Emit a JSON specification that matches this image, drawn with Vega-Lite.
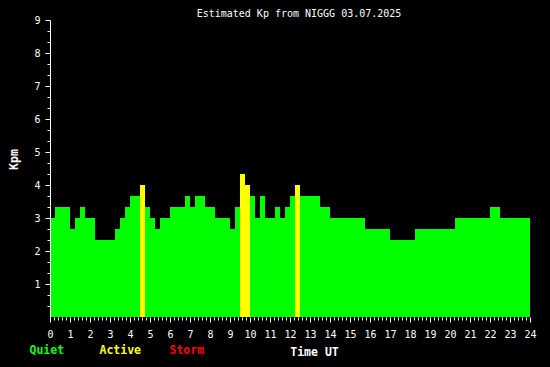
{
  "$schema": "https://vega.github.io/schema/vega-lite/v6.json",
  "width": 480,
  "height": 297,
  "autosize": "none",
  "padding": {"left": 50, "top": 20, "right": 20, "bottom": 50},
  "background": "black",
  "title": {"text": "Estimated Kp from NIGGG 03.07.2025", "color": "white", "font": "DejaVu Sans Mono", "fontSize": 10, "fontWeight": "normal", "anchor": "middle", "baseline": "alphabetic", "offset": 3, "dx": 9, "dy": 15},
  "config": {"view": {"stroke": null}},
  "data": {"values": [
    {"start": 0, "end": 0.25, "kp": 3},
    {"start": 0.25, "end": 1.0, "kp": 3.333},
    {"start": 1.0, "end": 1.25, "kp": 2.667},
    {"start": 1.25, "end": 1.5, "kp": 3},
    {"start": 1.5, "end": 1.75, "kp": 3.333},
    {"start": 1.75, "end": 2.25, "kp": 3},
    {"start": 2.25, "end": 3.25, "kp": 2.333},
    {"start": 3.25, "end": 3.5, "kp": 2.667},
    {"start": 3.5, "end": 3.75, "kp": 3},
    {"start": 3.75, "end": 4.0, "kp": 3.333},
    {"start": 4.0, "end": 4.5, "kp": 3.667},
    {"start": 4.5, "end": 4.75, "kp": 4},
    {"start": 4.75, "end": 5.0, "kp": 3.333},
    {"start": 5.0, "end": 5.25, "kp": 3},
    {"start": 5.25, "end": 5.5, "kp": 2.667},
    {"start": 5.5, "end": 6.0, "kp": 3},
    {"start": 6.0, "end": 6.75, "kp": 3.333},
    {"start": 6.75, "end": 7.0, "kp": 3.667},
    {"start": 7.0, "end": 7.25, "kp": 3.333},
    {"start": 7.25, "end": 7.75, "kp": 3.667},
    {"start": 7.75, "end": 8.25, "kp": 3.333},
    {"start": 8.25, "end": 9.0, "kp": 3},
    {"start": 9.0, "end": 9.25, "kp": 2.667},
    {"start": 9.25, "end": 9.5, "kp": 3.333},
    {"start": 9.5, "end": 9.75, "kp": 4.333},
    {"start": 9.75, "end": 10.0, "kp": 4},
    {"start": 10.0, "end": 10.25, "kp": 3.667},
    {"start": 10.25, "end": 10.5, "kp": 3},
    {"start": 10.5, "end": 10.75, "kp": 3.667},
    {"start": 10.75, "end": 11.25, "kp": 3},
    {"start": 11.25, "end": 11.5, "kp": 3.333},
    {"start": 11.5, "end": 11.75, "kp": 3},
    {"start": 11.75, "end": 12.0, "kp": 3.333},
    {"start": 12.0, "end": 12.25, "kp": 3.667},
    {"start": 12.25, "end": 12.5, "kp": 4},
    {"start": 12.5, "end": 13.5, "kp": 3.667},
    {"start": 13.5, "end": 14.0, "kp": 3.333},
    {"start": 14.0, "end": 15.75, "kp": 3},
    {"start": 15.75, "end": 17.0, "kp": 2.667},
    {"start": 17.0, "end": 18.25, "kp": 2.333},
    {"start": 18.25, "end": 20.25, "kp": 2.667},
    {"start": 20.25, "end": 22.0, "kp": 3},
    {"start": 22.0, "end": 22.5, "kp": 3.333},
    {"start": 22.5, "end": 24.0, "kp": 3}
  ]},
  "transform": [{"calculate": "datum.kp >= 5 ? 'Storm' : datum.kp >= 4 ? 'Active' : 'Quiet'", "as": "level"}],
  "layer": [
    {
      "mark": {"type": "rect"},
      "encoding": {
        "x": {"field": "start", "type": "quantitative",
          "scale": {"domain": [0, 24], "nice": false, "zero": false},
          "axis": {"orient": "bottom", "values": [0,1,2,3,4,5,6,7,8,9,10,11,12,13,14,15,16,17,18,19,20,21,22,23,24], "format": "d",
            "labelColor": "white", "labelFont": "DejaVu Sans Mono", "labelFontSize": 10, "labelPadding": 7,
            "labelFlush": false, "labelOverlap": false, "tickColor": "white", "tickSize": 5, "tickWidth": 1,
            "domain": false, "grid": false, "zindex": 1,
            "title": "Time UT", "titleColor": "white", "titleFont": "DejaVu Sans Mono", "titleFontSize": 11.5, "titleFontWeight": "bold",
            "titleX": 264, "titleY": 38, "titleBaseline": "alphabetic"}},
        "x2": {"field": "end"},
        "y": {"field": "kp", "type": "quantitative",
          "scale": {"domain": [0, 9], "nice": false},
          "axis": {"orient": "left", "values": [1,2,3,4,5,6,7,8,9], "format": "d",
            "labelColor": "white", "labelFont": "DejaVu Sans Mono", "labelFontSize": 10, "labelPadding": 5,
            "tickColor": "white", "tickSize": 5, "tickWidth": 1, "domainColor": "white", "domainWidth": 1,
            "grid": false, "zindex": 1,
            "title": "Kpm", "titleColor": "white", "titleFont": "DejaVu Sans Mono", "titleFontSize": 11.5, "titleFontWeight": "bold",
            "titleAngle": -90, "titleX": -33, "titleY": 139, "titleBaseline": "alphabetic"}},
        "y2": {"datum": 0},
        "color": {"field": "level", "type": "nominal",
          "scale": {"domain": ["Quiet", "Active", "Storm"], "range": ["#00ff00", "#ffff00", "#ff0000"]},
          "legend": {"orient": "none", "legendX": -32, "legendY": 325, "direction": "horizontal", "title": null,
            "symbolSize": 0, "symbolStrokeWidth": 0, "symbolOpacity": 0, "labelOffset": 0,
            "labelFont": "DejaVu Sans Mono", "labelFontSize": 11.5, "labelFontWeight": "bold",
            "columnPadding": 16, "gridAlign": "all", "padding": 0,
            "encode": {"labels": {"update": {"fill": {"scale": "color", "field": "value"}}}}}}
      }
    },
    {
      "mark": {"type": "rect", "opacity": 0},
      "encoding": {
        "x": {"field": "start", "type": "quantitative",
          "axis": {"orient": "bottom", "values": [0.2,0.4,0.6,0.8,1.2,1.4,1.6,1.8,2.2,2.4,2.6,2.8,3.2,3.4,3.6,3.8,4.2,4.4,4.6,4.8,5.2,5.4,5.6,5.8,6.2,6.4,6.6,6.8,7.2,7.4,7.6,7.8,8.2,8.4,8.6,8.8,9.2,9.4,9.6,9.8,10.2,10.4,10.6,10.8,11.2,11.4,11.6,11.8,12.2,12.4,12.6,12.8,13.2,13.4,13.6,13.8,14.2,14.4,14.6,14.8,15.2,15.4,15.6,15.8,16.2,16.4,16.6,16.8,17.2,17.4,17.6,17.8,18.2,18.4,18.6,18.8,19.2,19.4,19.6,19.8,20.2,20.4,20.6,20.8,21.2,21.4,21.6,21.8,22.2,22.4,22.6,22.8,23.2,23.4,23.6,23.8],
            "labels": false, "tickColor": "white", "tickSize": 3, "tickWidth": 1, "domain": false, "grid": false, "title": null, "zindex": 1}},
        "x2": {"field": "end"},
        "y": {"field": "kp", "type": "quantitative",
          "axis": {"orient": "left", "values": [0.3333,0.6667,1.3333,1.6667,2.3333,2.6667,3.3333,3.6667,4.3333,4.6667,5.3333,5.6667,6.3333,6.6667,7.3333,7.6667,8.3333,8.6667],
            "labels": false, "tickColor": "white", "tickSize": 3, "tickWidth": 1, "domain": false, "grid": false, "title": null, "zindex": 1}},
        "y2": {"datum": 0}
      }
    }
  ],
  "resolve": {"axis": {"x": "independent", "y": "independent"}}
}
